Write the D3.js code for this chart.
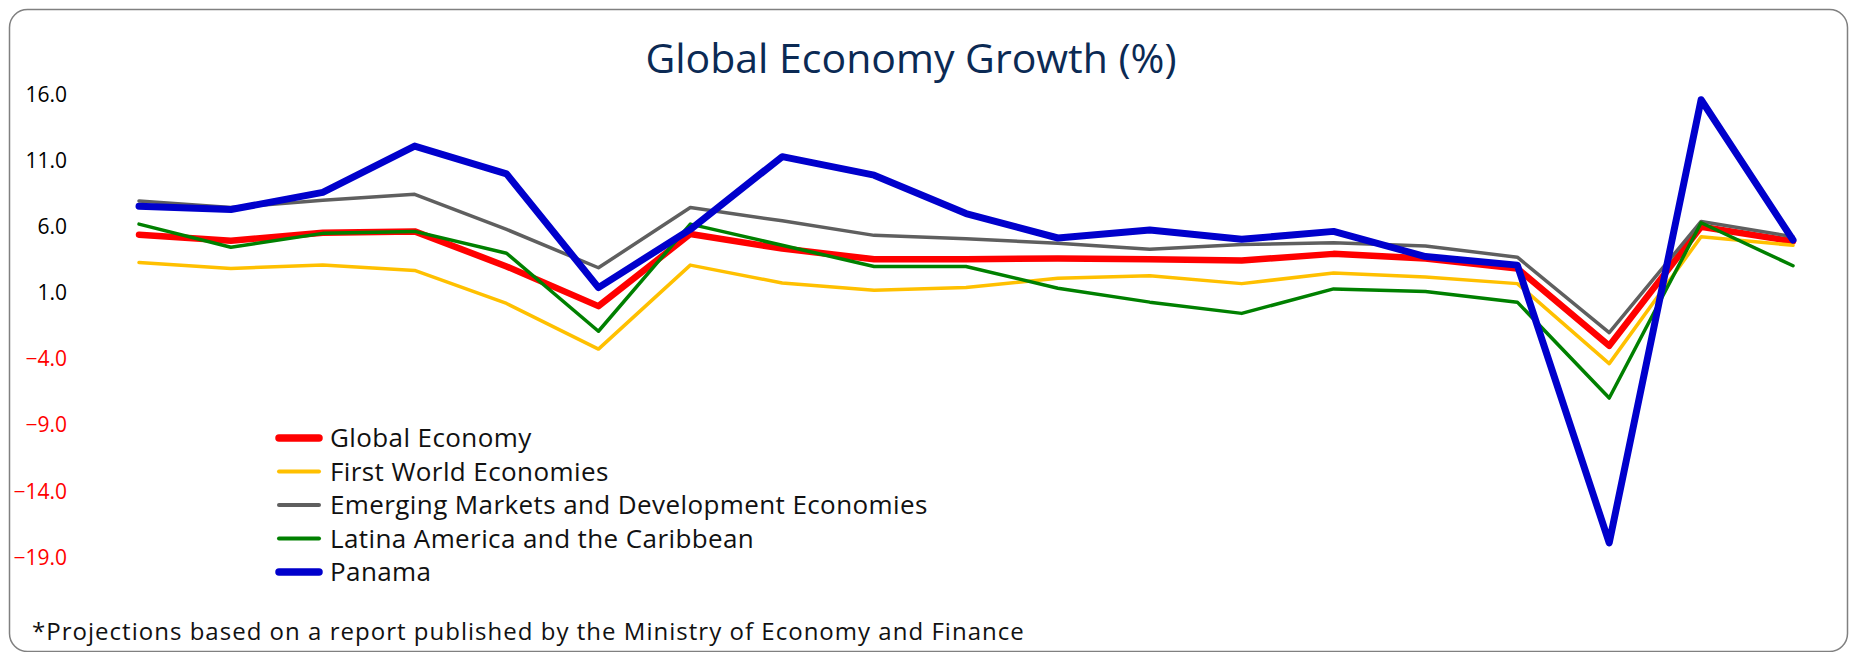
<!DOCTYPE html>
<html>
<head>
<meta charset="utf-8">
<script src="https://cdn.jsdelivr.net/npm/d3@7"></script>
<style>
  body { margin: 0; background: #fff; }
  svg { display: block; font-family: "Open Sans", sans-serif; }
</style>
</head>
<body>
<div id="chart"></div>
<script>
// years on the x axis (not labelled in the chart)
const years = ["2004", "2005", "2006", "2007", "2008", "2009", "2010", "2011", "2012", "2013",
  "2014", "2015", "2016", "2017", "2018", "2019", "2020", "2021", "2022"];

const globalEconomy = [5.4, 4.95, 5.55, 5.65, 3.0, 0.0, 5.45, 4.35, 3.55, 3.55, 3.6, 3.55, 3.45, 3.95, 3.6, 2.85, -3.0, 6.0, 4.9];
const firstWorld = [3.3, 2.85, 3.1, 2.7, 0.2, -3.25, 3.1, 1.75, 1.2, 1.4, 2.1, 2.3, 1.7, 2.5, 2.2, 1.7, -4.35, 5.25, 4.6];
const emerging = [7.95, 7.45, 8.0, 8.45, 5.8, 2.9, 7.45, 6.45, 5.35, 5.1, 4.75, 4.3, 4.65, 4.8, 4.55, 3.7, -2.0, 6.4, 5.25];
const latinAmerica = [6.2, 4.45, 5.5, 5.65, 4.0, -1.9, 6.2, 4.6, 3.0, 3.0, 1.35, 0.3, -0.55, 1.3, 1.1, 0.3, -6.95, 6.3, 3.05];
const panama = [7.55, 7.3, 8.6, 12.1, 10.0, 1.4, 5.8, 11.3, 9.9, 7.0, 5.15, 5.75, 5.05, 5.65, 3.75, 3.1, -17.9, 15.6, 5.0];

const seriesNames = ["Global Economy", "First World Economies", "Emerging Markets and Development Economies",
  "Latina America and the Caribbean", "Panama"];
const yTicks = [16, 11, 6, 1, -4, -9, -14, -19];

const title = "Global Economy Growth (%)";
const footnote = "*Projections based on a report published by the Ministry of Economy and Finance";

const series = [
  { name: seriesNames[0], values: globalEconomy, color: "#ff0000", width: 6.5 },
  { name: seriesNames[1], values: firstWorld, color: "#ffc000", width: 3.5 },
  { name: seriesNames[2], values: emerging, color: "#5f5f5f", width: 3.5 },
  { name: seriesNames[3], values: latinAmerica, color: "#008000", width: 3.5 },
  { name: seriesNames[4], values: panama, color: "#0000cc", width: 7 },
];

const width = 1852;
const height = 652;

const x = d3.scalePoint()
  .domain(years)
  .range([139, 1793]);

const y = d3.scaleLinear()
  .domain([-19, 16])
  .range([557.4, 94.5]);

const svg = d3.select("#chart")
  .append("svg")
  .attr("width", width)
  .attr("height", height)
  .attr("viewBox", [0, 0, width, height]);

// rounded frame
svg.append("rect")
  .attr("x", 9.5)
  .attr("y", 9.5)
  .attr("width", width - 14)
  .attr("height", height - 10)
  .attr("rx", 18)
  .attr("fill", "#fff")
  .attr("stroke", "#808080")
  .attr("stroke-width", 1.5);

// title
svg.append("text")
  .attr("x", 911)
  .attr("y", 73)
  .attr("text-anchor", "middle")
  .attr("font-size", 41)
  .attr("fill", "#0b2a54")
  .text(title);

// y axis, labels only
const yAxis = svg.append("g")
  .attr("transform", "translate(67,0)")
  .call(d3.axisLeft(y).tickValues(yTicks).tickFormat(d3.format(".1f")).tickSize(0).tickPadding(0));
yAxis.select(".domain").remove();
yAxis.selectAll("text")
  .attr("font-family", "Open Sans, sans-serif")
  .attr("font-size", 21)
  .attr("fill", d => d < 0 ? "#ff0000" : "#000");

// lines
const line = d3.line()
  .x((d, i) => x(years[i]))
  .y(d => y(d));

svg.append("g")
  .selectAll("path")
  .data(series)
  .join("path")
  .attr("fill", "none")
  .attr("stroke", d => d.color)
  .attr("stroke-width", d => d.width)
  .attr("stroke-linejoin", "round")
  .attr("stroke-linecap", "round")
  .attr("d", d => line(d.values));

// legend
const legend = svg.append("g")
  .selectAll("g")
  .data(series)
  .join("g")
  .attr("transform", (d, i) => `translate(277,${438 + i * 33.5})`);

legend.append("line")
  .attr("x1", 2)
  .attr("x2", 42)
  .attr("stroke", d => d.color)
  .attr("stroke-width", d => d.width > 5 ? 7.5 : 4)
  .attr("stroke-linecap", "round");

legend.append("text")
  .attr("x", 53)
  .attr("dy", "0.35em")
  .attr("font-size", 26)
  .attr("letter-spacing", 0.4)
  .attr("fill", "#111")
  .text(d => d.name);

// footnote
svg.append("text")
  .attr("x", 32)
  .attr("y", 640)
  .attr("font-size", 24)
  .attr("letter-spacing", 1.02)
  .attr("fill", "#111")
  .text(footnote);
</script>
</body>
</html>
